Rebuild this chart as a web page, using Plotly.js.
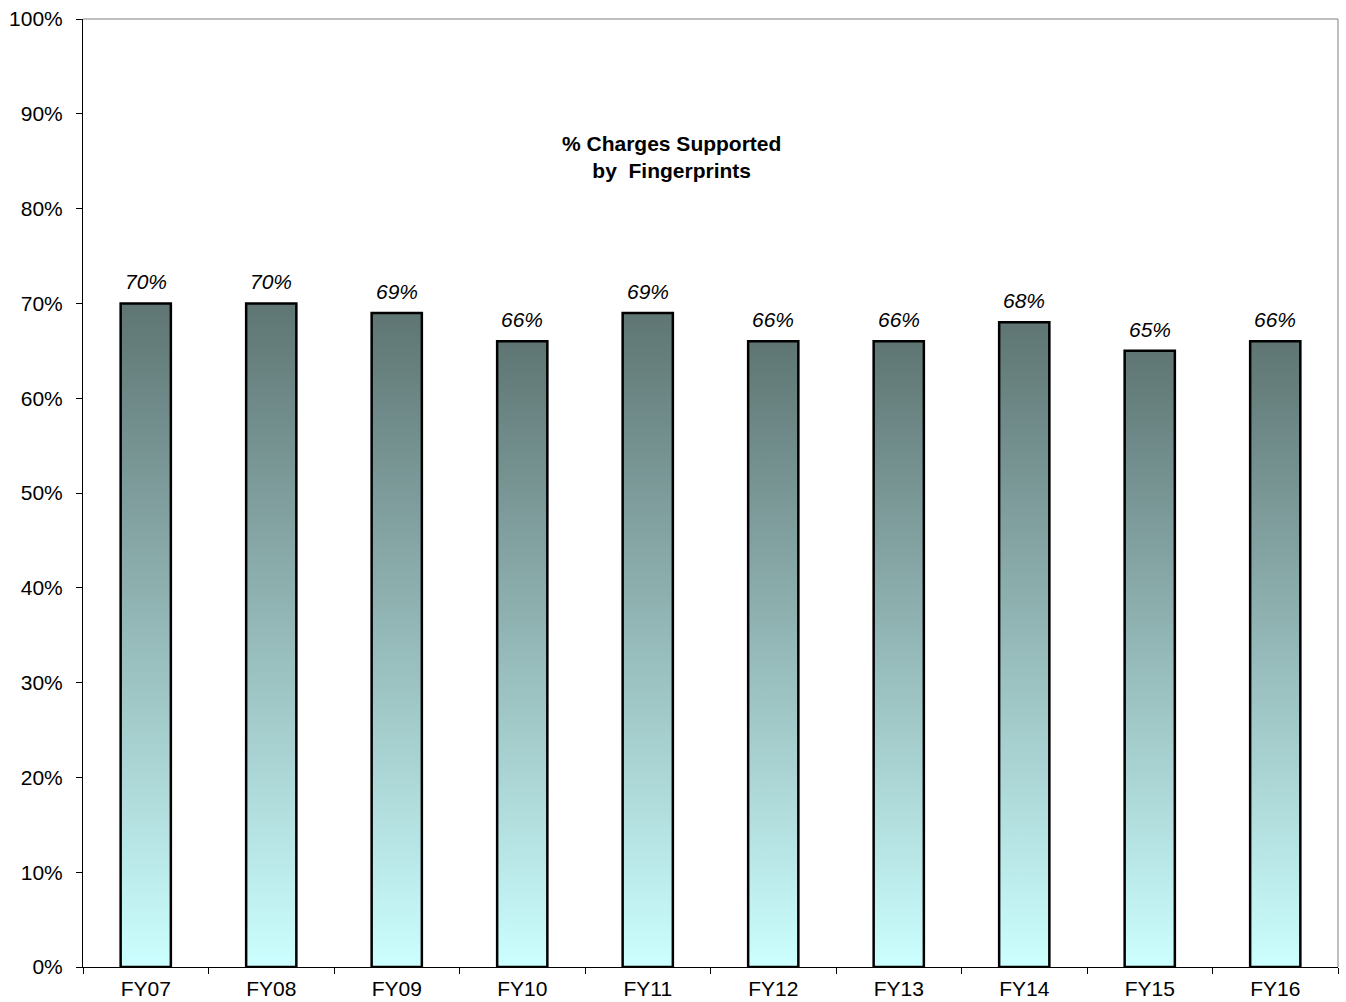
<!DOCTYPE html>
<html>
<head>
<meta charset="utf-8">
<script src="https://cdn.plot.ly/plotly-3.0.1.min.js"></script>
<style>
html,body{margin:0;padding:0;background:#fff;}
#chart{width:1346px;height:1002px;}
</style>
</head>
<body>
<div id="chart"></div>
<script>
var categories = ["FY07","FY08","FY09","FY10","FY11","FY12","FY13","FY14","FY15","FY16"];
var values = [0.70,0.70,0.69,0.66,0.69,0.66,0.66,0.68,0.65,0.66];
var labels = ["70%","70%","69%","66%","69%","66%","66%","68%","65%","66%"];
var titleText = "<b>% Charges Supported<br>by  Fingerprints</b>";

var FONT = "Arial, 'Liberation Sans', sans-serif";

var trace = {
  type: "bar",
  x: categories,
  y: values,
  width: 0.4,
  marker: {color: "#8fb3b1", line: {color: "#000000", width: 2.5}},
  hoverinfo: "none"
};

var annotations = categories.map(function(c, i){
  return {
    x: c, y: values[i], xref: "x", yref: "y",
    text: labels[i], showarrow: false,
    yanchor: "bottom", yshift: 8,
    font: {family: FONT, size: 21, color: "#000", style: "italic"}
  };
});
annotations.push({
  xref: "paper", yref: "paper", x: 0.469, y: 0.854,
  xanchor: "center", yanchor: "middle",
  text: titleText, showarrow: false,
  font: {family: FONT, size: 21, color: "#000"}
});

var layout = {
  width: 1346, height: 1002,
  margin: {l: 83, r: 8, t: 19, b: 35, pad: 0},
  paper_bgcolor: "#ffffff",
  plot_bgcolor: "#ffffff",
  showlegend: false,
  font: {family: FONT, size: 21, color: "#000"},
  xaxis: {
    type: "category",
    showgrid: false, zeroline: false,
    showline: true, linecolor: "#000", linewidth: 1,
    ticks: "outside", tickson: "boundaries", ticklen: 6, tickcolor: "#000", tickwidth: 1,
    ticklabelstandoff: 3,
    tickfont: {family: FONT, size: 21, color: "#000"}
  },
  yaxis: {
    range: [0, 1], dtick: 0.1, tick0: 0,
    tickformat: ".0%",
    showgrid: false, zeroline: false,
    showline: true, linecolor: "#000", linewidth: 1,
    ticks: "outside", ticklen: 6, tickcolor: "#000", tickwidth: 1,
    ticklabelstandoff: 9,
    tickfont: {family: FONT, size: 21, color: "#000"}
  },
  annotations: annotations,
  shapes: [
    {type: "line", xref: "paper", yref: "paper", x0: 0, x1: 1, y0: 1, y1: 1, line: {color: "#808080", width: 1}},
    {type: "line", xref: "paper", yref: "paper", x0: 1, x1: 1, y0: 0, y1: 1, line: {color: "#808080", width: 1}}
  ]
};

Plotly.newPlot("chart", [trace], layout, {staticPlot: true}).then(function(gd){
  var svg = gd.querySelector("svg.main-svg");
  var ns = "http://www.w3.org/2000/svg";
  var defs = svg.querySelector("defs") || svg.insertBefore(document.createElementNS(ns, "defs"), svg.firstChild);
  var grad = document.createElementNS(ns, "linearGradient");
  grad.setAttribute("id", "barGrad");
  grad.setAttribute("x1", "0"); grad.setAttribute("y1", "0");
  grad.setAttribute("x2", "0"); grad.setAttribute("y2", "1");
  [["0", "#5e7573"], ["1", "#ccffff"]].forEach(function(s){
    var st = document.createElementNS(ns, "stop");
    st.setAttribute("offset", s[0]);
    st.setAttribute("stop-color", s[1]);
    grad.appendChild(st);
  });
  defs.appendChild(grad);
  gd.querySelectorAll(".bars .point path").forEach(function(p){
    p.style.fill = "url(#barGrad)";
    p.style.fillOpacity = "1";
  });
});
</script>
</body>
</html>
